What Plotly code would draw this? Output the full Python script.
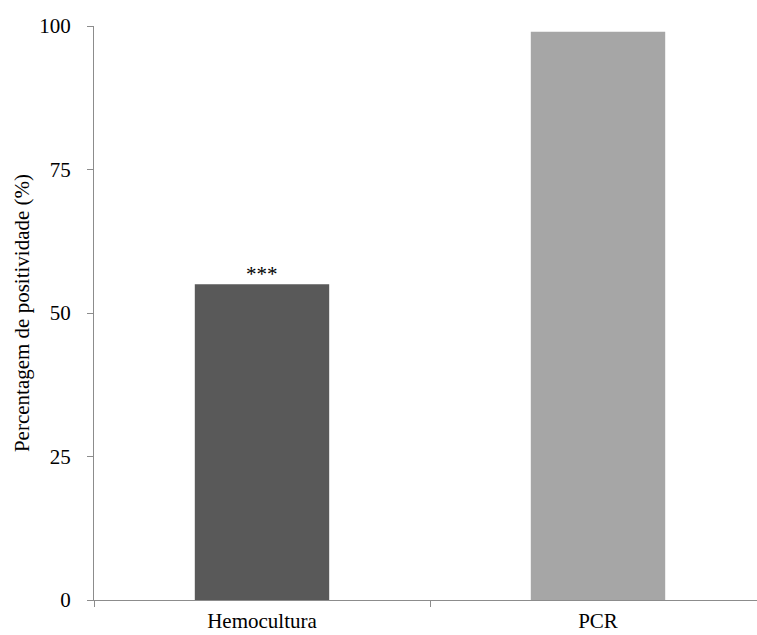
import plotly.graph_objects as go

categories = ["Hemocultura", "PCR"]
positivity = [55, 99]
bar_colors = ["#595959", "#A6A6A6"]
y_ticks = [0, 25, 50, 75, 100]
significance = "***"

FONT = "Liberation Serif, Times New Roman, serif"
FONT_SIZE = 21
AXIS_COLOR = "#8C8C8C"

fig = go.Figure(
    go.Bar(
        x=categories,
        y=positivity,
        width=0.4,
        marker=dict(color=bar_colors, line=dict(width=0)),
    )
)

fig.add_annotation(
    x=categories[0],
    y=positivity[0],
    text=significance,
    showarrow=False,
    yanchor="bottom",
    yshift=-4,
    font=dict(family=FONT, size=FONT_SIZE, color="#000000"),
)

fig.update_layout(
    width=757,
    height=635,
    margin=dict(l=94, r=0, t=26, b=35),
    paper_bgcolor="white",
    plot_bgcolor="white",
    showlegend=False,
    font=dict(family=FONT, size=FONT_SIZE, color="#000000"),
)

fig.update_xaxes(
    type="category",
    range=[-0.5, -0.5 + 663 / 336],
    automargin=False,
    showline=True,
    linecolor=AXIS_COLOR,
    linewidth=1,
    ticks="outside",
    tickson="boundaries",
    ticklen=6,
    tickcolor=AXIS_COLOR,
    showgrid=False,
    zeroline=False,
    tickfont=dict(family=FONT, size=FONT_SIZE),
    ticklabelstandoff=2,
)

fig.update_yaxes(
    range=[0, 100],
    tickvals=y_ticks,
    automargin=False,
    showline=True,
    linecolor=AXIS_COLOR,
    linewidth=1,
    ticks="outside",
    ticklen=6,
    tickcolor=AXIS_COLOR,
    showgrid=False,
    zeroline=False,
    tickfont=dict(family=FONT, size=FONT_SIZE),
    ticklabelstandoff=12,
    title=dict(
        text="Percentagem de positividade (%)",
        font=dict(family=FONT, size=FONT_SIZE),
        standoff=3,
    ),
)

fig.write_html("out.html")
